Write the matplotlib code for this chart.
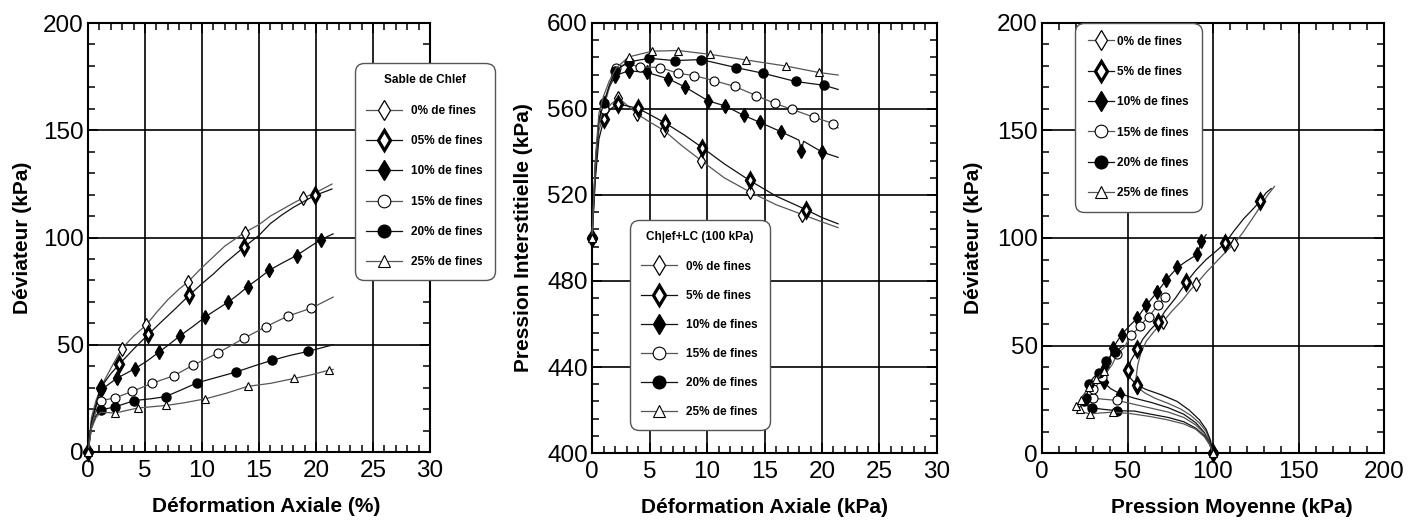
import matplotlib
matplotlib.use('Agg')
import matplotlib.pyplot as plt
from matplotlib.ticker import MultipleLocator

plt.rcParams['font.family'] = ['Liberation Sans', 'DejaVu Sans']

labels = ['0% de fines', '5% de fines', '10% de fines',
          '15% de fines', '20% de fines', '25% de fines']
labels_left = ['0% de fines', '05% de fines', '10% de fines',
               '15% de fines', '20% de fines', '25% de fines']

# ── Panel 1 : déviateur vs déformation axiale (%) ─────────────────────────────
eps_q_0 = [0, 0.3, 0.7, 1.2, 2.0, 2.96, 4.0, 5.1, 6.0, 7.0, 8.0, 8.73, 10.0, 11.0, 12.0,
           13.73, 15.0, 16.0, 17.0, 18.0, 18.9, 20.0, 21.4]
q_0 = [0, 16, 24, 31, 39, 48.2, 54, 59.2, 65, 71, 76, 79.1, 86, 91, 96,
       102.3, 106, 110, 113, 116, 118.5, 121, 124.9]
mk_q_0 = [0, 5, 7, 11, 15, 20]

eps_q_5 = [0, 0.3, 0.7, 1.1, 2.0, 2.72, 4.0, 5.3, 6.5, 7.7, 8.9, 10.0, 11.0, 12.0, 13.7,
           15.0, 16.0, 17.0, 18.0, 19.0, 19.9, 21.4]
q_5 = [0, 14, 22, 30, 36.5, 40.8, 48, 54.9, 61, 67, 73.2, 78.5, 83, 88, 95.6,
       101, 106.5, 110.5, 114, 117, 119.6, 122.6]
mk_q_5 = [0, 3, 5, 7, 10, 14, 20]

eps_q_10 = [0, 0.3, 0.7, 1.14, 2.5, 4.1, 5.2, 6.24, 7.2, 8.1, 9.2, 10.3, 11.3, 12.3, 13.2,
            14.0, 15.0, 15.9, 17.0, 18.3, 19.4, 20.4, 21.5]
q_10 = [0, 13, 21, 28.9, 34.3, 38.8, 42.5, 46.6, 50.5, 54.3, 58.5, 63, 66.5, 69.9, 73.5,
        77.1, 81, 84.7, 88, 91.6, 95.5, 98.9, 101.7]
mk_q_10 = [0, 3, 4, 5, 7, 9, 11, 13, 15, 17, 19, 21]

eps_q_15 = [0, 0.3, 0.7, 1.14, 2.37, 3.9, 5.6, 7.5, 9.2, 11.4, 13.7, 15.6, 17.5, 19.6, 21.5]
q_15 = [0, 12, 19, 24, 25.2, 28.3, 32, 35.5, 40.4, 46.2, 53.1, 58.4, 63.3, 67.1, 72.2]
mk_q_15 = [0, 3, 4, 5, 6, 7, 8, 9, 10, 11, 12, 13]

eps_q_20 = [0, 0.3, 0.7, 1.14, 2.37, 4.07, 5.5, 6.8, 8.2, 9.6, 11.3, 13.0, 14.5, 16.1,
            17.7, 19.3, 21.5]
q_20 = [0, 11, 17, 19.7, 21, 24, 24.8, 25.8, 29, 32.3, 34.8, 37.3, 40, 42.7,
        45, 46.9, 50]
mk_q_20 = [0, 3, 4, 5, 7, 9, 11, 13, 15]

eps_q_25 = [0, 0.3, 0.7, 1.1, 2.4, 4.36, 6.85, 8.5, 10.3, 12.2, 14.0, 16.0, 18.1, 19.6,
            21.1, 21.5]
q_25 = [0, 11, 16, 18.5, 18.2, 20.5, 21.7, 23, 24.8, 27.5, 30.6, 32, 34.3, 36,
        38.1, 38.5]
mk_q_25 = [0, 4, 5, 6, 8, 10, 12, 14]

# ── Panel 2 : pression interstitielle vs déformation axiale ───────────────────
eps_u_0 = [0, 0.3, 0.6, 1.0, 1.6, 2.3, 3.0, 3.93, 5.0, 6.24, 7.8, 9.5, 11.5, 13.7, 16.0,
           18.3, 20.0, 21.4]
u_0 = [500, 530, 550, 557, 562, 565.2, 562, 557.7, 554, 550.1, 543, 536, 528, 521.5, 515.5,
       510.9, 507.5, 504.8]
mk_u_0 = [0, 5, 7, 9, 11, 13, 15]

eps_u_5 = [0, 0.3, 0.6, 1.04, 1.6, 2.25, 3.0, 3.99, 5.0, 6.36, 8.0, 9.6, 11.5, 13.7, 16.0,
           18.6, 20.0, 21.4]
u_5 = [500, 528, 546, 555.3, 560, 562.3, 561.5, 560.3, 557.5, 553.5, 548, 542, 534.5, 526.8,
       519.5, 513.2, 509.5, 506.6]
mk_u_5 = [0, 3, 5, 7, 9, 11, 13, 15]

eps_u_10 = [0, 0.3, 0.6, 1.0, 1.5, 2.0, 3.2, 4.8, 6.65, 8.1, 10.1, 11.6, 13.2, 14.6, 16.4,
            18.0, 18.2, 18.4, 20.0, 21.4]
u_10 = [500, 535, 555, 563, 570, 575.5, 577.8, 577, 574, 570.2, 563.8, 561.4, 557, 553.8, 549.5,
        545.5, 540.5, 545, 540, 537.5]
mk_u_10 = [0, 3, 5, 6, 7, 8, 9, 10, 11, 12, 13, 14, 16, 18]

eps_u_15 = [0, 0.3, 0.6, 1.0, 1.5, 2.1, 3.0, 4.2, 5.9, 7.5, 8.9, 10.6, 12.4, 14.3, 15.9,
            17.4, 19.3, 21.0, 21.4]
u_15 = [500, 533, 553, 560, 570, 579.3, 581, 579.6, 579.3, 576.6, 575.5, 573.2, 570.5, 566.2,
        562.6, 559.8, 556.2, 553.2, 551.2]
mk_u_15 = [0, 3, 5, 7, 8, 9, 10, 11, 12, 13, 14, 15, 16, 17]

eps_u_20 = [0, 0.3, 0.6, 1.04, 1.5, 2.02, 3.2, 4.97, 7.2, 9.5, 12.5, 14.9, 17.7, 20.2, 21.4]
u_20 = [500, 535, 555, 562.9, 571, 577.8, 581.9, 583.6, 582.5, 583, 579.3, 576.6, 572.8,
        571, 569.1]
mk_u_20 = [0, 3, 5, 6, 7, 8, 9, 10, 11, 12, 13]

eps_u_25 = [0, 0.3, 0.6, 1.0, 1.5, 2.1, 3.18, 5.23, 7.5, 10.3, 13.4, 16.85, 19.7, 21.4]
u_25 = [500, 537, 558, 566, 573, 579, 584.2, 586.9, 587.2, 585.4, 582.8, 580, 577, 575.8]
mk_u_25 = [0, 6, 7, 8, 9, 10, 11, 12]

# ── Panel 3 : chemin des contraintes (p', q) ──────────────────────────────────
p_0 = [100, 98.5, 96, 92, 87, 81, 74, 66, 60, 55.8, 55, 56, 58, 61, 66, 70.8, 76, 82, 87, 90.3,
       96, 102, 108, 112.3, 117, 123, 128, 132, 136]
pq_0 = [0, 5, 10, 14, 17.5, 20.5, 23, 25.5, 28, 30.6, 35, 41, 47, 52, 57, 61.1, 66, 71, 76, 78.7,
        84, 89, 94, 97.3, 102, 109, 115, 120, 124]
mk_p_0 = [0, 9, 15, 19, 23]

p_5 = [100, 98.5, 96, 92, 86, 79, 70, 61, 55.3, 51.5, 50.4, 52, 55.8, 59, 63, 67.9, 72, 78,
       84.4, 90, 96, 102, 107.2, 112, 118, 124, 127.6, 131, 134]
pq_5 = [0, 6, 11, 15.5, 20, 24, 27, 29.5, 31.7, 35, 38.7, 43, 48.2, 53, 57, 61.1, 66, 72,
        79.4, 85, 90, 94, 97.7, 103, 109, 114, 117.2, 121, 123]
mk_p_5 = [0, 8, 10, 12, 15, 18, 22, 26]

p_10 = [100, 98, 95, 90, 83, 74, 64, 54, 45.5, 40, 36, 35, 37, 39.5, 41.6, 44, 46.5, 51,
        55.6, 61.1, 67.3, 72.8, 79.2, 85, 90.9, 93.2, 96]
pq_10 = [0, 5, 9.5, 14, 18, 21, 23.5, 25.5, 27.6, 30, 33, 36, 40, 44, 48.9, 52, 55, 59,
         62.7, 68.8, 74.8, 80.6, 86.3, 89.5, 92.4, 98.8, 101.5]
mk_p_10 = [0, 8, 10, 12, 14, 16, 18, 19, 20, 21, 22, 24, 25]

p_15 = [100, 98, 95, 90, 83, 74, 63, 52, 43.6, 36, 30, 29, 30, 32, 35.2, 38, 41, 44, 48,
        52.3, 55, 57.5, 60, 62.6, 65, 67.9, 70, 71.8, 73]
pq_15 = [0, 4.5, 9, 13, 16.5, 19, 21, 23, 24.5, 25, 25.5, 28, 29.8, 31.4, 35.2, 38, 41, 46.2, 49,
         55, 57, 59, 61.5, 63.4, 66, 68.8, 71, 72.6, 73]
mk_p_15 = [0, 8, 10, 12, 14, 17, 19, 21, 23, 25, 27]

p_20 = [100, 98, 95, 90, 83, 74, 64, 54, 43.6, 36, 29.2, 25, 24.4, 26, 27.4, 30, 33.1, 35.5,
        37.6, 40, 42.8, 45, 47.7]
pq_20 = [0, 4, 8, 11.5, 14.5, 16.5, 18, 19.5, 19.7, 20.3, 21, 22.5, 24, 25.8, 32.3, 35, 37.3, 40,
         42.7, 45, 46.9, 48.5, 50]
mk_p_20 = [0, 8, 10, 12, 13, 14, 16, 18, 20]

p_25 = [100, 98, 95, 90, 83, 73, 63, 52, 41.3, 34, 28, 24, 22.3, 20, 21, 22.9, 25, 27.7,
        29.5, 31.6, 34, 36.2, 37]
pq_25 = [0, 4, 7.5, 11, 13.5, 15.5, 17, 18.3, 19, 18.6, 18.2, 19, 20.5, 21.7, 23, 24.8, 28,
         30.6, 32.5, 34.3, 36, 38.1, 38.5]
mk_p_25 = [0, 8, 10, 12, 13, 15, 17, 19, 21]

# marker / line styles for the six fines contents
styles = [
    dict(marker='d', mfc='white', mew=0.9, ms=7, color='#555555'),
    dict(marker='d', mfc='white', mew=2.3, ms=7, color='#111111'),
    dict(marker='d', mfc='black', mew=1.0, ms=7, color='#111111'),
    dict(marker='o', mfc='white', mew=0.8, ms=6.5, color='#555555'),
    dict(marker='o', mfc='black', mew=1.0, ms=6.5, color='#111111'),
    dict(marker='^', mfc='white', mew=0.8, ms=6, color='#555555'),
]


def draw(ax, xs, ys, marks, names):
    for x, y, m, name, st in zip(xs, ys, marks, names, styles):
        ax.plot(x, y, color=st['color'], lw=0.9, marker=st['marker'], ms=st['ms'],
                mfc=st['mfc'], mec='black', mew=st['mew'], markevery=m, label=name,
                zorder=3, clip_on=False)


def style_axes(ax, xlim, ylim, xmaj, xmin, ymaj, ymin):
    ax.set_xlim(*xlim)
    ax.set_ylim(*ylim)
    ax.xaxis.set_major_locator(MultipleLocator(xmaj))
    ax.xaxis.set_minor_locator(MultipleLocator(xmin))
    ax.yaxis.set_major_locator(MultipleLocator(ymaj))
    ax.yaxis.set_minor_locator(MultipleLocator(ymin))
    ax.grid(True, which='major', color='black', linewidth=1.2, zorder=1)
    ax.set_axisbelow(True)
    ax.tick_params(which='both', direction='in', top=True, right=True, width=1.1)
    ax.tick_params(which='major', length=7, labelsize=17.5, pad=6)
    ax.tick_params(axis='y', which='major', pad=3)
    ax.tick_params(which='minor', length=5)
    for s in ax.spines.values():
        s.set_linewidth(1.5)


fig = plt.figure(figsize=(14.13, 5.32), dpi=100)
W, H = 1413, 532
ax1 = fig.add_axes([88 / W, 1 - 452 / H, 342 / W, 429 / H])
ax2 = fig.add_axes([592 / W, 1 - 453 / H, 345 / W, 430 / H])
ax3 = fig.add_axes([1042 / W, 1 - 453 / H, 342 / W, 430 / H])

draw(ax1, [eps_q_0, eps_q_5, eps_q_10, eps_q_15, eps_q_20, eps_q_25],
     [q_0, q_5, q_10, q_15, q_20, q_25],
     [mk_q_0, mk_q_5, mk_q_10, mk_q_15, mk_q_20, mk_q_25], labels_left)
draw(ax2, [eps_u_0, eps_u_5, eps_u_10, eps_u_15, eps_u_20, eps_u_25],
     [u_0, u_5, u_10, u_15, u_20, u_25],
     [mk_u_0, mk_u_5, mk_u_10, mk_u_15, mk_u_20, mk_u_25], labels)
draw(ax3, [p_0, p_5, p_10, p_15, p_20, p_25],
     [pq_0, pq_5, pq_10, pq_15, pq_20, pq_25],
     [mk_p_0, mk_p_5, mk_p_10, mk_p_15, mk_p_20, mk_p_25], labels)

style_axes(ax1, (0, 30), (0, 200), 5, 1, 50, 10)
style_axes(ax2, (0, 30), (400, 600), 5, 1, 40, 8)
style_axes(ax3, (0, 200), (0, 200), 50, 10, 50, 10)

lab = dict(fontsize=15, fontweight='bold')
ax1.set_xlabel('Déformation Axiale (%)', **lab)
ax1.set_ylabel('Déviateur (kPa)', **lab)
ax2.set_xlabel('Déformation Axiale (kPa)', **lab)
ax2.set_ylabel('Pression Interstitielle (kPa)', **lab)
ax3.set_xlabel('Pression Moyenne (kPa)', **lab)
ax3.set_ylabel('Déviateur (kPa)', **lab)
ax1.xaxis.set_label_coords(0.52, -0.105)
ax2.xaxis.set_label_coords(0.5, -0.105)
ax3.xaxis.set_label_coords(0.556, -0.105)
ax1.yaxis.set_label_coords(-0.165, 0.5)
ax2.yaxis.set_label_coords(-0.171, 0.5)
ax3.yaxis.set_label_coords(-0.173, 0.5)

leg_kw = dict(loc='upper left', bbox_transform=fig.transFigure, fancybox=True,
              framealpha=1, edgecolor='#555555', markerscale=1.4,
              prop=dict(size=8.5, weight='bold'), borderaxespad=0)
l1 = ax1.legend(bbox_to_anchor=(357 / W, 1 - 65 / H), title='Sable de Chlef',
                title_fontproperties=dict(size=8.5, weight='bold'),
                handlelength=3.0, borderpad=0.8, labelspacing=1.55, **leg_kw)
l2 = ax2.legend(bbox_to_anchor=(632 / W, 1 - 222 / H), title='Ch|ef+LC (100 kPa)',
                title_fontproperties=dict(size=8.5, weight='bold'),
                handlelength=3.0, borderpad=0.8, labelspacing=1.45, **leg_kw)
l3 = ax3.legend(bbox_to_anchor=(1077 / W, 1 - 25 / H), handlelength=2.2,
                handletextpad=0.3, borderpad=0.9, labelspacing=1.55, **leg_kw)
for lg in (l1, l2, l3):
    lg.get_frame().set_linewidth(1.0)
    lg.get_frame().set_boxstyle('round,pad=0.2,rounding_size=0.8')

plt.savefig('out.png', dpi=100)
